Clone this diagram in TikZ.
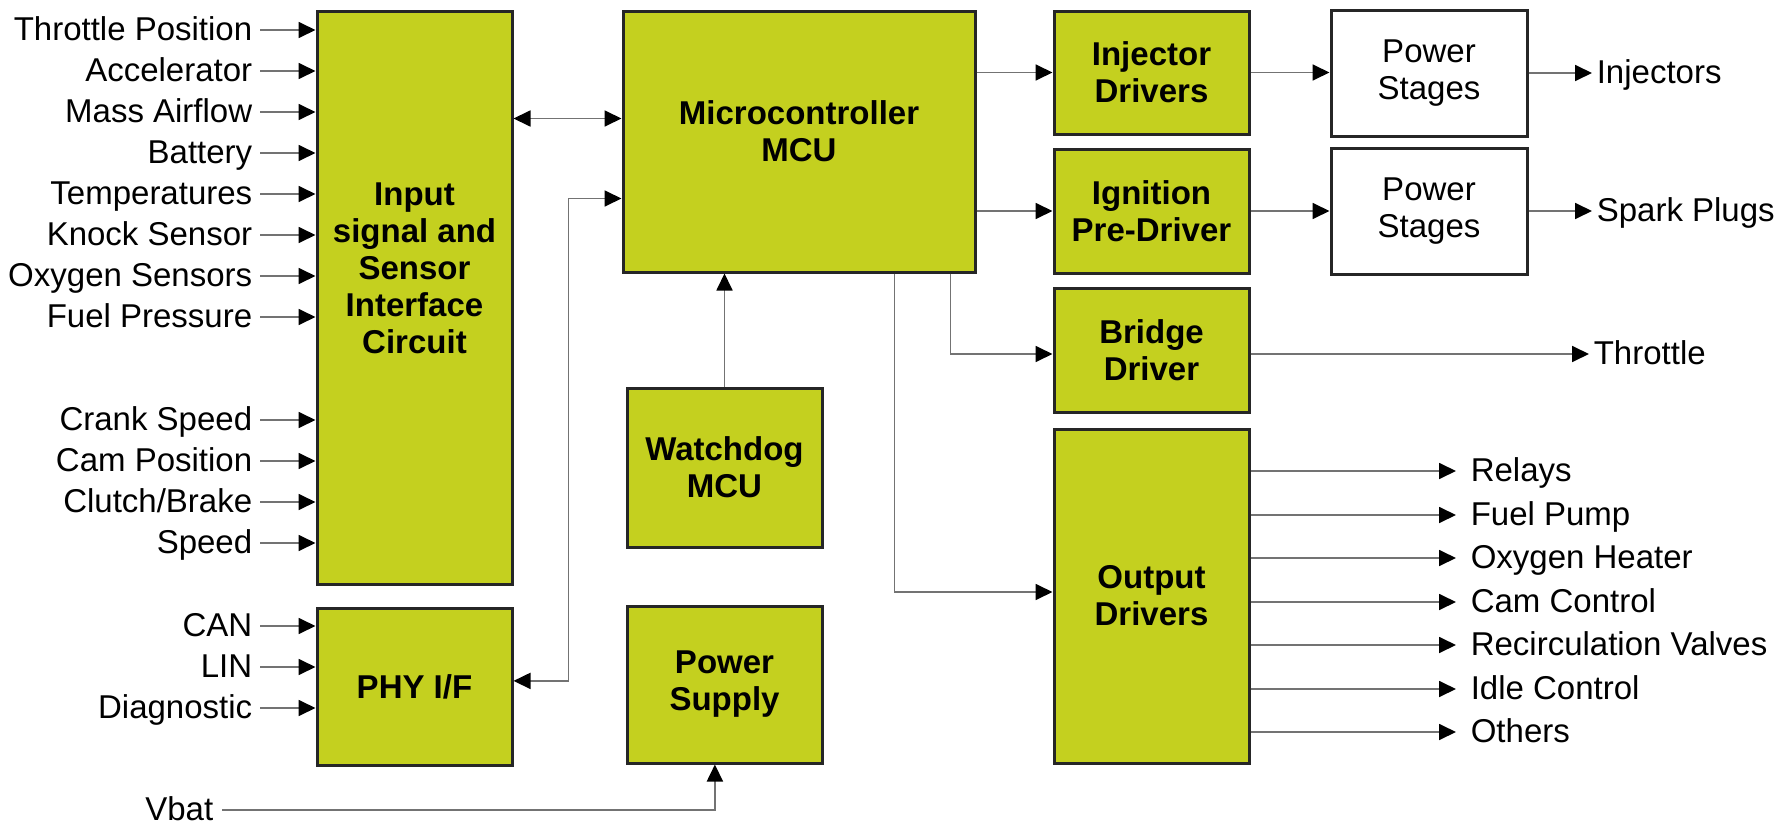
\documentclass[tikz,border=0pt]{standalone}
\usepackage{fontspec}
\setmainfont{Liberation Sans}
\usetikzlibrary{arrows.meta,positioning}
\definecolor{EcuGreen}{HTML}{C4D01F}
\tikzset{
  block text/.style={align=center,font=\fontsize{8.25}{9.25}\selectfont\bfseries},
  every block/.style={draw=black!85,line width=0.75pt,inner sep=0pt,minimum width=48.75pt},
  green block/.style={every block,block text,fill=EcuGreen},
  white block/.style={every block,fill=white,align=center,font=\fontsize{8.25}{9.25}\selectfont},
  sig in/.style={anchor=mid east,inner xsep=1.75pt,inner ysep=0pt,font=\fontsize{8.25}{9.25}\selectfont},
  sig out/.style={anchor=mid west,inner xsep=3.5pt,inner ysep=0pt,font=\fontsize{8.25}{9.25}\selectfont},
  wire/.style={draw=black!55,line width=0.45pt},
}

\begin{document}
\begin{tikzpicture}[x=0.25pt,y=-0.25pt,>={Triangle[length=4.25pt,width=4pt,color=black]}]
\useasboundingbox (0,0) rectangle (1791,824);
% blocks
\node[green block,minimum height=143.25pt] (inp) at (414.5,297.5) {};
\node[block text] (inptext) at ([yshift=7.25pt]inp.center) {Input\\signal and\\Sensor\\Interface\\Circuit};
\node[green block,minimum height=39.25pt,below=5.25pt of inp] (phy) {PHY I/F};
\node[green block,minimum width=88pt,minimum height=65.25pt] (mcu) at (799,141.5) {};
\node[block text] (mcutext) at ([yshift=2.5pt]mcu.center) {Microcontroller\\MCU};
\node[green block,minimum height=39.75pt] (wdog) at (724.5,467.5) {Watchdog\\MCU};
\node[green block,minimum height=39.25pt,below=14pt of wdog] (psup) {Power\\Supply};
\node[green block,minimum height=30.75pt] (inj) at (1151.5,72.5) {Injector\\Drivers};
\node[green block,minimum height=31pt,below=3pt of inj] (ign) {Ignition\\Pre-Driver};
\node[green block,minimum height=31pt,below=3pt of ign] (brdg) {Bridge\\Driver};
\node[green block,minimum height=83.5pt,below=3.5pt of brdg] (outd) {Output\\Drivers};
\node[white block,minimum width=49pt,minimum height=31.5pt] (pst) at (1429,73) {Power\\Stages};
\node[white block,minimum width=49pt,minimum height=31.5pt,below=2.25pt of pst] (spst) {Power\\Stages};

% sensor inputs
\foreach \y/\sig [count=\i] in {30/Throttle Position,71/Accelerator,112/Mass Airflow,153/Battery,
  194/Temperatures,235/Knock Sensor,276/Oxygen Sensors,317/Fuel Pressure,420/Crank Speed,
  461/Cam Position,502/{Clutch/Brake},543/Speed}
{
  \node[sig in] (in\i) at (260,\y) {\sig};
  \draw[wire,->] (in\i.mid east) -- (inp.west |- in\i.mid east);
}
\foreach \y/\sig [count=\i] in {626/CAN,667/LIN,708/Diagnostic}
{
  \node[sig in] (bus\i) at (260,\y) {\sig};
  \draw[wire,->] (bus\i.mid east) -- (phy.west |- bus\i.mid east);
}

% actuator outputs
\foreach \y/\sig [count=\i] in {471/Relays,515/Fuel Pump,558/Oxygen Heater,602/Cam Control,
  645/Recirculation Valves,689/Idle Control,732/Others}
{
  \node[sig out] (out\i) at (1456,\y) {\sig};
  \draw[wire,->] (outd.east |- out\i.mid west) -- (out\i.mid west);
}
\node[sig out,inner xsep=1pt] (injs) at (1592,73) {Injectors};
\node[sig out,inner xsep=1pt] (plugs) at (spst.east -| injs.mid west) {Spark Plugs};
\node[sig out,inner xsep=1pt] (thr) at (1589,354) {Throttle};
\node[sig in,inner xsep=2pt] (vbat) at (222,810) {Vbat};

% links
\draw[wire,<->] ([yshift=-27.25pt]inp.north east) -- ([yshift=-27.25pt]mcu.north west);
\draw[wire,<->] ([yshift=1.4pt]phy.east) -- ++(55,0) |- ([yshift=-47.25pt]mcu.north west);
\draw[wire,->] (wdog.north) -- (wdog.north |- mcu.south);
\draw[wire,->] (vbat.mid east) -| ([xshift=-2.4pt]psup.south);
\draw[wire,->] (mcu.east |- inj.west) -- (inj.west);
\draw[wire,->] (mcu.east |- ign.west) -- (ign.west);
\draw[wire,->] ([xshift=-6.5pt]mcu.south east) |- ([yshift=-1pt]brdg.west);
\draw[wire,->] ([xshift=-20.5pt]mcu.south east) |- ([yshift=1pt]outd.west);
\draw[wire,->] (inj.east) -- (pst.west |- inj.east);
\draw[wire,->] (ign.east) -- (spst.west |- ign.east);
\draw[wire,->] (pst.east) -- (injs.mid west);
\draw[wire,->] (spst.east) -- (plugs.mid west);
\draw[wire,->] (brdg.east |- thr.mid west) -- (thr.mid west);
\end{tikzpicture}
\end{document}
